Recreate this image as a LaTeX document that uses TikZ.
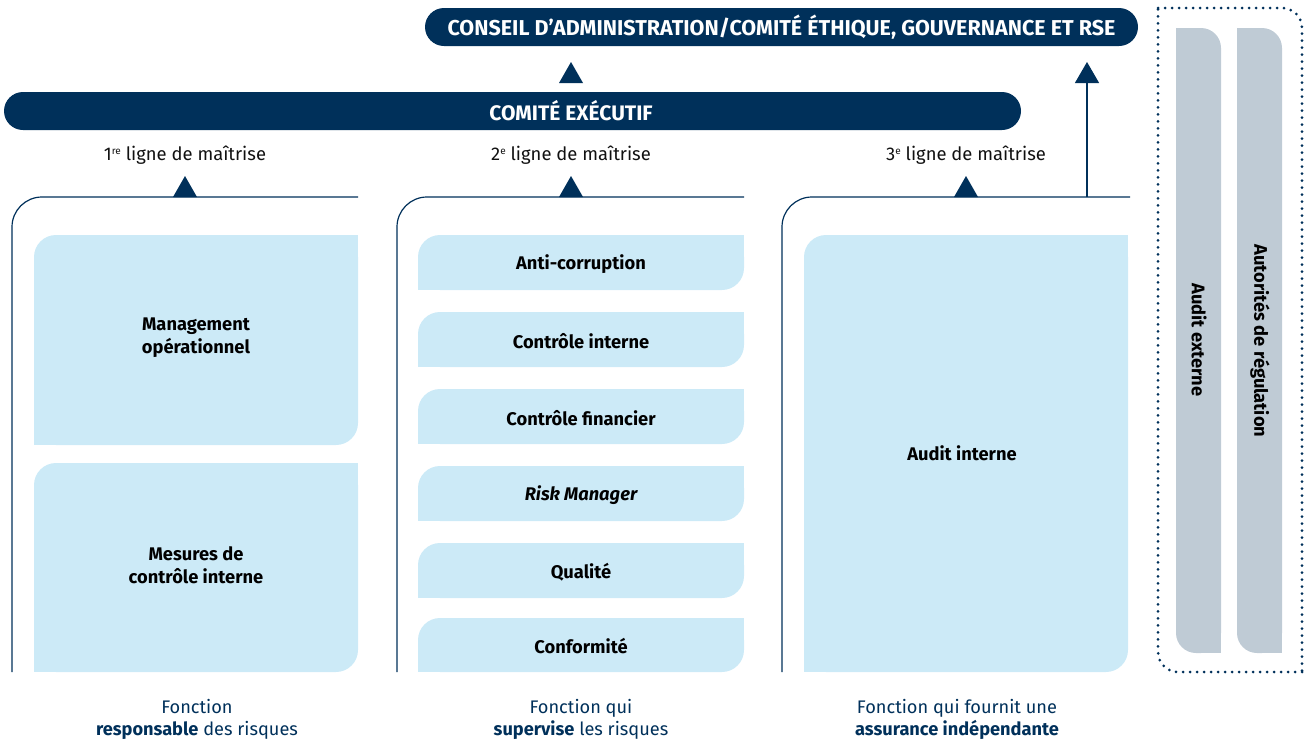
\documentclass[tikz,border=0pt]{standalone}
\usepackage{fontspec}
\setmainfont{Fira Sans}
\usetikzlibrary{arrows.meta}
\definecolor{navy}{HTML}{00305A}
\definecolor{lblue}{HTML}{CCEAF7}
\definecolor{lgray}{HTML}{BFCBD5}
\definecolor{ink}{HTML}{111111}
\newcommand\uptri[2]{\fill[navy] (#1-12,#2) -- (#1+12,#2) -- (#1,#2-21) -- cycle;}
% box with rounded top-left and bottom-right corners
\newcommand\tlbrbox[5]{%
  \fill[#5, rounded corners=22pt] (#1,#2) rectangle (#3,#4);
  \fill[#5] (#3-22,#2) rectangle (#3,#2+22);
  \fill[#5] (#1,#4-22) rectangle (#1+22,#4);}
% box with rounded top-right and bottom-left corners
\newcommand\trblbox[5]{%
  \fill[#5, rounded corners=20pt] (#1,#2) rectangle (#3,#4);
  \fill[#5] (#1,#2) rectangle (#1+20,#2+20);
  \fill[#5] (#3-20,#4-20) rectangle (#3,#4);}
\newcommand\sups[1]{\raisebox{0.55ex}{\fontsize{10}{10}\selectfont #1}}
\begin{document}
\begin{tikzpicture}[x=1pt,y=-1pt,
  banner/.style={fill=navy, rounded corners=19pt, inner sep=0pt, minimum height=38pt},
  bantext/.style={text=white, font=\fontsize{21.5}{24}\selectfont\bfseries},
  lignetext/.style={text=ink, font=\fontsize{18.4}{22}\selectfont},
  boxtext/.style={text=black, font=\fontsize{18.3}{23}\selectfont\bfseries, align=center},
  sidetext/.style={text=black, font=\fontsize{18.3}{23}\selectfont\bfseries, rotate=-90},
  foottext/.style={text=navy, font=\fontsize{18.2}{22}\selectfont, align=center},
  panel/.style={draw=navy, line width=1.2pt, rounded corners=30pt},
  link/.style={draw=navy, line width=1.2pt, -{Triangle[width=24pt,length=21pt]}},
  dotbox/.style={draw=navy, line width=3pt, line cap=round, dash pattern=on 0pt off 7pt, rounded corners=20pt}]
\useasboundingbox (0,0) rectangle (1306,742);

% banners
\node[banner, minimum width=713pt, bantext] (conseil) at (781.5,27)
  {CONSEIL D’ADMINISTRATION/COMITÉ ÉTHIQUE, GOUVERNANCE ET RSE};
\node[banner, minimum width=1017pt] (comex) at (512.5,111) {};
\node[bantext, font=\fontsize{21}{24}\selectfont\bfseries] (comexlabel) at (571,111) {COMITÉ EXÉCUTIF};

% triangles
\uptri{571}{83}
\uptri{185}{197}
\uptri{571}{197}
\uptri{966}{197}

% ligne labels
\node[lignetext] (l1) at (185,155) {1\sups{re} ligne de maîtrise};
\node[lignetext] (l2) at (571,155) {2\sups{e} ligne de maîtrise};
\node[lignetext] (l3) at (966,155) {3\sups{e} ligne de maîtrise};

% panels
\draw[panel] (12,672) -- (12,197) -- (358,197);
\draw[panel] (397,672) -- (397,197) -- (744,197);
\draw[panel] (782,672) -- (782,197) -- (1130,197);

% arrow from panel 3 to conseil
\coordinate (p3a) at (1087,197);
\coordinate (ctip) at (1087,62);
\draw[link] (p3a) -- (ctip);

% panel 1 boxes
\tlbrbox{34}{235}{358}{445}{lblue}
\tlbrbox{34}{463}{358}{672}{lblue}
\node[boxtext] (mo) at (196,338) {Management\\opérationnel};
\node[boxtext] (mci) at (196,565) {Mesures de\\contrôle interne};

% panel 2 boxes
\tlbrbox{418}{235}{744}{290}{lblue}
\tlbrbox{418}{312}{744}{367}{lblue}
\tlbrbox{418}{389}{744}{444}{lblue}
\tlbrbox{418}{466}{744}{521}{lblue}
\tlbrbox{418}{543}{744}{598}{lblue}
\tlbrbox{418}{618}{744}{672}{lblue}
\node[boxtext] (ac) at (581,264) {Anti-corruption};
\node[boxtext] (ci) at (581,341) {Contrôle interne};
\node[boxtext] (cf) at (581,418) {Contrôle financier};
\node[boxtext] (rm) at (581,495) {\itshape Risk Manager};
\node[boxtext] (qu) at (581,572) {Qualité};
\node[boxtext] (co) at (581,646) {Conformité};

% panel 3 box
\tlbrbox{804}{235}{1128}{672}{lblue}
\node[boxtext] (ai) at (962,453) {Audit interne};

% right side
\draw[dotbox] (1158,8) -- (1302,8) -- (1302,672);
\draw[dotbox] (1302,672) -- (1158,672) -- (1158,8);
\trblbox{1176}{28}{1221}{653}{lgray}
\trblbox{1237}{28}{1282}{653}{lgray}
\node[sidetext] (ae) at (1199,340) {Audit externe};
\node[sidetext] (ar) at (1260,341) {Autorités de régulation};

% footers
\node[foottext] (f1) at (197,719) {Fonction\\\textbf{responsable} des risques};
\node[foottext] (f2) at (581,719) {Fonction qui\\\textbf{supervise} les risques};
\node[foottext] (f3) at (957,719) {Fonction qui fournit une\\\textbf{assurance indépendante}};
\end{tikzpicture}
\end{document}
